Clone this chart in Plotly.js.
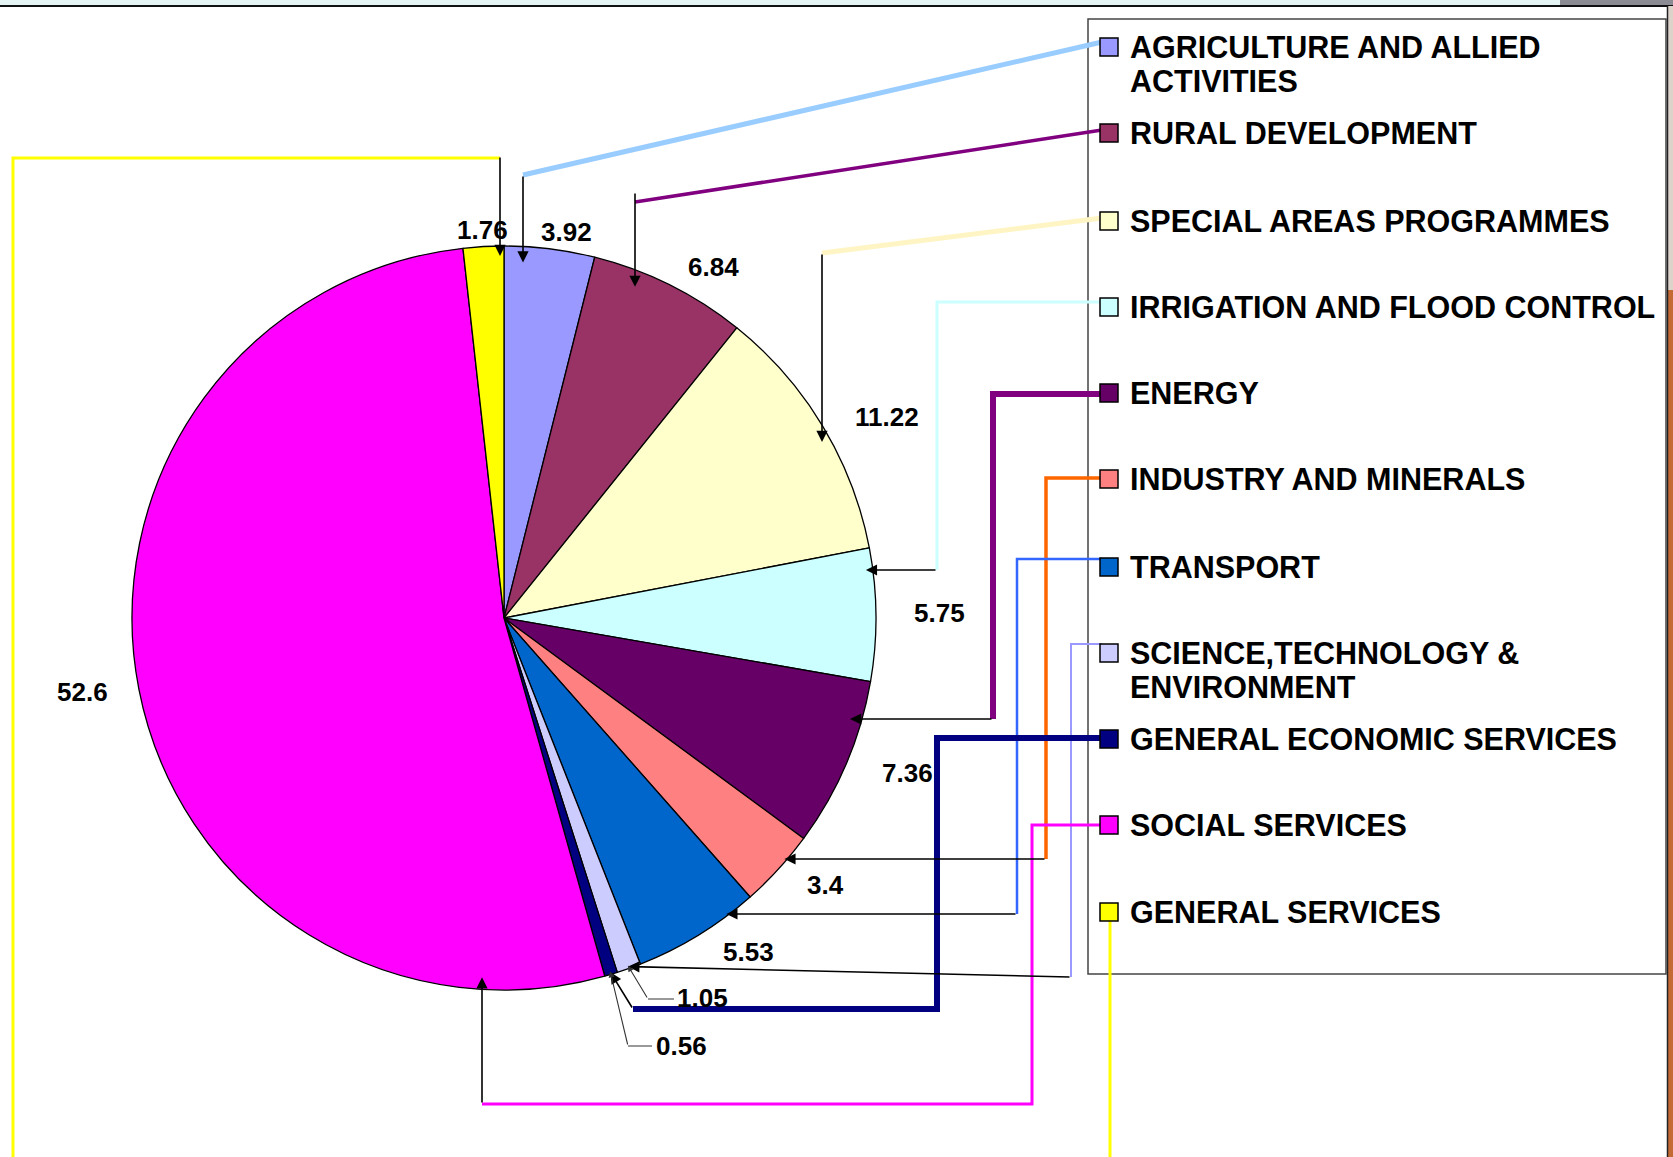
<!DOCTYPE html>
<html>
<head>
<meta charset="utf-8">
<script src="https://cdn.plot.ly/plotly-3.0.1.min.js"></script>
<style>
html, body { margin: 0; padding: 0; background: #ffffff; }
#chart { width: 1673px; height: 1157px; }
</style>
</head>
<body>
<div id="chart"></div>
<script>
// ---------------- DATA ----------------
const categories = [
  "AGRICULTURE AND ALLIED ACTIVITIES",
  "RURAL DEVELOPMENT",
  "SPECIAL AREAS PROGRAMMES",
  "IRRIGATION AND FLOOD CONTROL",
  "ENERGY",
  "INDUSTRY AND MINERALS",
  "TRANSPORT",
  "SCIENCE,TECHNOLOGY & ENVIRONMENT",
  "GENERAL ECONOMIC SERVICES",
  "SOCIAL SERVICES",
  "GENERAL SERVICES"
];
const legendLabels = [
  "AGRICULTURE AND ALLIED<br>ACTIVITIES",
  "RURAL DEVELOPMENT",
  "SPECIAL AREAS PROGRAMMES",
  "IRRIGATION AND FLOOD CONTROL",
  "ENERGY",
  "INDUSTRY AND MINERALS",
  "TRANSPORT",
  "SCIENCE,TECHNOLOGY &<br>ENVIRONMENT",
  "GENERAL ECONOMIC SERVICES",
  "SOCIAL SERVICES",
  "GENERAL SERVICES"
];
const values = [3.92, 6.84, 11.22, 5.75, 7.36, 3.4, 5.53, 1.05, 0.56, 52.6, 1.76];

// ---------------- STYLE / LAYOUT ----------------
const sliceColors = ["#9999FF", "#993366", "#FFFFCC", "#CCFFFF", "#660066", "#FF8080",
                     "#0066CC", "#CCCCFF", "#000080", "#FF00FF", "#FFFF00"];
const connectorColors = ["#99CCFF", "#800080", "#FFF5C4", "#CCFFFF", "#800080", "#FF6600",
                         "#3366FF", "#9999FF", "#000080", "#FF00FF", "#FFFF00"];
const connectorWidths = [5, 3.5, 5, 3, 6, 3.5, 2.5, 2, 6, 3, 3];

const W = 1673, H = 1157;
const CX = 504, CY = 618, R = 372;
const FONT = "Liberation Sans, Arial, Helvetica, sans-serif";

const px = x => x / W;
const py = y => 1 - y / H;

// pie edge helpers (pixel space)
const topY = x => CY - Math.sqrt(R * R - (x - CX) * (x - CX));
const bottomY = x => CY + Math.sqrt(R * R - (x - CX) * (x - CX));
const rightX = y => CX + Math.sqrt(R * R - (y - CY) * (y - CY));
const total = values.reduce((a, b) => a + b, 0);
function sliceMid(i, inset) {
  let before = 0;
  for (let k = 0; k < i; k++) before += values[k];
  const frac = (before + values[i] / 2) / total;
  const th = frac * 2 * Math.PI;
  const rr = R - inset;
  return [CX + rr * Math.sin(th), CY - rr * Math.cos(th)];
}

// value label positions (pixels)
const labelPos = [[566, 232], [713, 267], [887, 417], [939, 613], [908, 773], [825, 885],
                  [748, 952], [702, 998], [681, 1046], [82, 692], [482, 230]];

// legend entry rows (pixel y of first line) and wrapped-line step
const legendRowY = [47, 133, 221, 307, 393, 479, 567, 653, 739, 825, 912];
const legendLineStep = 34;

// connector polylines (pixels) from legend to arrow start
const connectorPaths = [
  [[1102, 42], [523, 175]],
  [[1102, 130], [635, 202]],
  [[1102, 218], [822, 253]],
  [[1102, 302], [937, 302], [937, 570]],
  [[1102, 394], [993, 394], [993, 719]],
  [[1102, 478], [1046, 478], [1046, 859]],
  [[1102, 559], [1017, 559], [1017, 914]],
  [[1102, 644], [1071, 644], [1071, 977]],
  [[1102, 738], [937, 738], [937, 1009], [633, 1009]],
  [[1102, 825], [1032, 825], [1032, 1104], [482, 1104]],
  [[1110, 921], [1110, 1160]]
];
const extraPaths = [
  { pts: [[13, 1160], [13, 158], [500, 158]], color: "#FFFF00", width: 3 }
];
// arrows: tail + how the tip meets the pie
const arrows = [
  { tail: [523, 175], dir: "down", inset: 16 },
  { tail: [635, 192], dir: "down", inset: 17 },
  { tail: [822, 253], dir: "down", inset: 17 },
  { tail: [937, 570], dir: "left", inset: 7 },
  { tail: [993, 719], dir: "left", inset: 12 },
  { tail: [1046, 859], dir: "left", inset: 3 },
  { tail: [1017, 914], dir: "left", inset: 3 },
  { tail: [1071, 977], dir: "mid", idx: 7, inset: 2 },
  { tail: [633, 1009], dir: "mid", idx: 8, inset: 2 },
  { tail: [482, 1104], dir: "up", inset: 12 },
  { tail: [500, 156], dir: "down", inset: 10 }
];
// thin leaders for small labels
const leaders = [
  { pts: [[674, 999], [648, 999]], idx: 7 },
  { pts: [[652, 1046], [628, 1046]], idx: 8 }
];

function pathStr(pts) {
  return pts.map((p, i) => (i ? "L" : "M") + px(p[0]).toFixed(5) + "," + py(p[1]).toFixed(5)).join(" ");
}
function tipOf(a) {
  const [tx, ty] = a.tail;
  if (a.dir === "down") return [tx, topY(tx) + a.inset];
  if (a.dir === "up") return [tx, bottomY(tx) - a.inset];
  if (a.dir === "left") return [rightX(ty) - a.inset, ty];
  return sliceMid(a.idx, a.inset);
}

// ---------------- TRACE ----------------
const trace = {
  type: "pie",
  labels: categories,
  values: values,
  sort: false,
  direction: "clockwise",
  rotation: 0,
  textinfo: "none",
  hoverinfo: "label+value",
  marker: { colors: sliceColors, line: { color: "#000000", width: 1.3 } },
  domain: { x: [px(CX - R), px(CX + R)], y: [py(CY + R), py(CY - R)] },
  showlegend: false
};

// ---------------- SHAPES ----------------
const shapes = [];
// window strip top + right edge
shapes.push({ type: "rect", xref: "paper", yref: "paper", x0: 0, x1: 1, y0: py(5), y1: 1,
  fillcolor: "#E4F3F4", line: { width: 0 } });
shapes.push({ type: "rect", xref: "paper", yref: "paper", x0: px(1560), x1: 1, y0: py(5), y1: 1,
  fillcolor: "#8C8C94", line: { width: 0 } });
shapes.push({ type: "line", xref: "paper", yref: "paper", x0: 0, x1: 1, y0: py(6), y1: py(6),
  line: { color: "#111111", width: 2 } });
shapes.push({ type: "rect", xref: "paper", yref: "paper", x0: px(1668), x1: 1, y0: py(290), y1: py(6),
  fillcolor: "#DCD3CB", line: { width: 0 } });
shapes.push({ type: "rect", xref: "paper", yref: "paper", x0: px(1668), x1: 1, y0: 0, y1: py(290),
  fillcolor: "#C46A34", line: { width: 0 } });
shapes.push({ type: "line", xref: "paper", yref: "paper", x0: px(1667.5), x1: px(1667.5), y0: 0, y1: py(6),
  line: { color: "#222222", width: 1.5 } });
// legend box
shapes.push({ type: "rect", xref: "paper", yref: "paper", x0: px(1088), x1: px(1666), y0: py(974), y1: py(19),
  line: { color: "#444444", width: 1.5 }, fillcolor: "rgba(0,0,0,0)" });
// connectors
connectorPaths.forEach((pts, i) => {
  shapes.push({ type: "path", xref: "paper", yref: "paper", path: pathStr(pts),
    line: { color: connectorColors[i], width: connectorWidths[i] } });
});
extraPaths.forEach(e => {
  shapes.push({ type: "path", xref: "paper", yref: "paper", path: pathStr(e.pts),
    line: { color: e.color, width: e.width } });
});
leaders.forEach(l => {
  shapes.push({ type: "path", xref: "paper", yref: "paper", path: pathStr(l.pts),
    line: { color: "#555555", width: 1.2 } });
});
// legend squares
legendRowY.forEach((y, i) => {
  shapes.push({ type: "rect", xref: "paper", yref: "paper",
    x0: px(1100), x1: px(1118), y0: py(y + 9), y1: py(y - 9),
    fillcolor: sliceColors[i], line: { color: "#000000", width: 1.5 } });
});

// ---------------- ANNOTATIONS ----------------
const annotations = [];
const LEG_FS = 30.5, LAB_FS = 26;
legendRowY.forEach((y, i) => {
  legendLabels[i].split("<br>").forEach((line, j) => {
    annotations.push({
      xref: "paper", yref: "paper", x: px(1128), y: py(y + j * legendLineStep - LEG_FS * 0.65 + 1),
      xanchor: "left", yanchor: "top", align: "left", showarrow: false,
      text: line,
      font: { family: FONT, size: LEG_FS, color: "#000000", weight: "bold" }
    });
  });
});
values.forEach((v, i) => {
  annotations.push({
    xref: "paper", yref: "paper", x: px(labelPos[i][0]), y: py(labelPos[i][1]),
    xanchor: "center", yanchor: "middle", showarrow: false,
    text: String(v),
    font: { family: FONT, size: LAB_FS, color: "#000000", weight: "bold" }
  });
});
arrows.forEach(a => {
  const tip = tipOf(a);
  annotations.push({
    xref: "paper", yref: "paper", x: px(tip[0]), y: py(tip[1]),
    ax: a.tail[0] - tip[0], ay: a.tail[1] - tip[1],
    text: "", showarrow: true, arrowhead: 2, arrowsize: 1.4, arrowwidth: 1.6,
    arrowcolor: "#000000", standoff: 0
  });
});
leaders.forEach(l => {
  const tip = sliceMid(l.idx, 3);
  const tail = l.pts[l.pts.length - 1];
  annotations.push({
    xref: "paper", yref: "paper", x: px(tip[0]), y: py(tip[1]),
    ax: tail[0] - tip[0], ay: tail[1] - tip[1],
    text: "", showarrow: true, arrowhead: 2, arrowsize: 1.1, arrowwidth: 1.1,
    arrowcolor: "#333333", standoff: 0
  });
});

const layout = {
  width: W, height: H,
  margin: { l: 0, r: 0, t: 0, b: 0, pad: 0 },
  paper_bgcolor: "#ffffff",
  plot_bgcolor: "#ffffff",
  showlegend: false,
  shapes: shapes,
  annotations: annotations,
  font: { family: FONT }
};

Plotly.newPlot("chart", [trace], layout, { displayModeBar: false, responsive: false });
</script>
</body>
</html>
